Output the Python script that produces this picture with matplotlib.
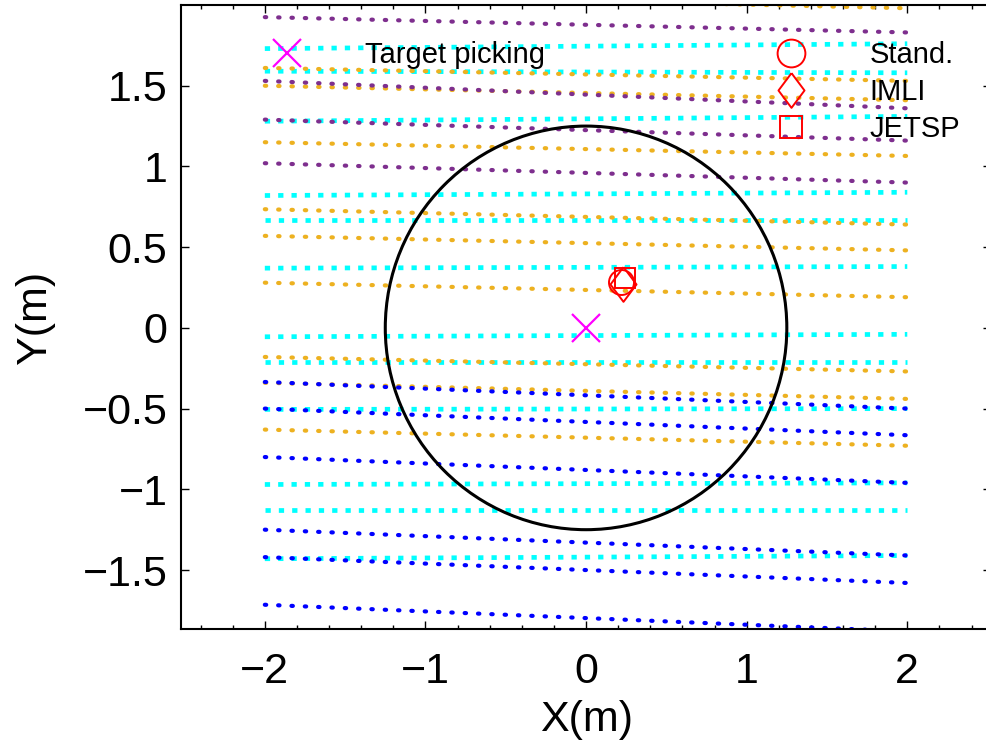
import matplotlib
matplotlib.use("Agg")
from matplotlib import pyplot as plt
from matplotlib.lines import Line2D
from matplotlib.patches import Circle
from matplotlib.ticker import MultipleLocator

plt.rcParams['font.family'] = ['Liberation Sans', 'DejaVu Sans']
plt.rcParams['lines.scale_dashes'] = False

# dotted reference lines: y at the left end (x=-2) and right end (x=2)
X_START, X_END = -2.0, 2.0
cyan_left = [1.73, 1.59, 1.28, 0.82, 0.67, 0.37, -0.055, -0.21, -0.505, -0.97, -1.13, -1.43]
cyan_right = [1.76, 1.58, 1.31, 0.84, 0.67, 0.38, -0.04, -0.21, -0.50, -0.96, -1.13, -1.41]
orange_left = [2.07, 1.61, 1.50, 1.15, 0.735, 0.57, 0.28, -0.18, -0.34, -0.63]
orange_right = [1.98, 1.53, 1.41, 1.065, 0.64, 0.48, 0.19, -0.27, -0.44, -0.73]
purple_left = [1.925, 1.53, 1.29, 1.02]
purple_right = [1.83, 1.36, 1.16, 0.90]
blue_left = [-0.335, -0.50, -0.80, -1.25, -1.42, -1.715]
blue_right = [-0.50, -0.665, -0.96, -1.41, -1.58, -1.88]

# circle and picked points
CIRCLE_R = 1.25
target = (0.0, 0.0)
methods = ["Stand.", "IMLI", "JETSP"]
method_x = [0.22, 0.23, 0.245]
method_y = [0.285, 0.27, 0.31]

XTICKS = [-2, -1, 0, 1, 2]
XTICK_LABELS = ["\u22122", "\u22121", "0", "1", "2"]
YTICKS = [-1.5, -1, -0.5, 0, 0.5, 1, 1.5]
YTICK_LABELS = ["\u22121.5", "\u22121", "\u22120.5", "0", "0.5", "1", "1.5"]

CYAN = "#00FFFF"
ORANGE = "#EDB120"
PURPLE = "#7E2F8E"
BLUE = "#0000FF"

DIAMOND = [(0, 1), (0.75, 0), (0, -1), (-0.75, 0), (0, 1)]

fig = plt.figure(figsize=(9.87, 7.48), dpi=100)
ax = fig.add_axes([181.3 / 987, 118.7 / 748, 809.5 / 987, 624.3 / 748])


def dotted(lefts, rights, color, square=False):
    for yl, yr in zip(lefts, rights):
        if square:
            ax.plot([X_START, X_END], [yl, yr], color=color, lw=3.4,
                    dashes=(3.8, 5.8), dash_capstyle="butt")
        else:
            ax.plot([X_START, X_END], [yl, yr], color=color, lw=3.0,
                    dashes=(1.0, 8.6), dash_capstyle="round")


dotted(cyan_left, cyan_right, CYAN, square=True)
dotted(orange_left, orange_right, ORANGE)
dotted(purple_left, purple_right, PURPLE)
dotted(blue_left, blue_right, BLUE)

ax.add_patch(Circle(target, CIRCLE_R, fill=False, color="black", lw=2.2, zorder=4))

ax.plot([target[0]], [target[1]], "x", color="#FF00FF", ms=20, mew=1.6, zorder=5)
markers = ["o", DIAMOND, "s"]
sizes = [18, 25, 15]
for m, s, x, y in zip(markers, sizes, method_x, method_y):
    ax.plot([x], [y], marker=m, ms=s, mfc="none", mec="red", mew=1.4,
            ls="none", zorder=6)

ax.set_xlim(-2.52, 2.52)
ax.set_ylim(-1.867, 2.0)
ax.set_xticks(XTICKS)
ax.set_xticklabels(XTICK_LABELS)
ax.set_yticks(YTICKS)
ax.set_yticklabels(YTICK_LABELS)
ax.xaxis.set_minor_locator(MultipleLocator(0.2))
ax.tick_params(which="both", direction="in", top=True, right=True, width=1.0)
ax.tick_params(which="major", length=5.5, labelsize=31)
ax.tick_params(which="minor", length=3)
ax.tick_params(axis="x", pad=16)
ax.tick_params(axis="y", pad=10)
for sp in ax.spines.values():
    sp.set_linewidth(1.5)

ax.set_xlabel("X(m)", fontsize=31, labelpad=6)
ax.set_ylabel("Y(m)", fontsize=31, labelpad=20)

# legends
h1 = [Line2D([], [], marker="x", color="#FF00FF", ms=20, mew=1.6, ls="none")]
leg1 = ax.legend(h1, ["Target picking"], loc="upper left",
                 bbox_to_anchor=(0.096, 0.942), frameon=False, fontsize=21,
                 handlelength=1.9, handletextpad=1.75, borderpad=0,
                 borderaxespad=0)
ax.add_artist(leg1)
h2 = [Line2D([], [], marker=m, ms=s, mfc="none", mec="red", mew=1.4, ls="none")
      for m, s in zip(markers, [20, 25, 16])]
ax.legend(h2, methods, loc="upper left", bbox_to_anchor=(0.7186, 0.942),
          frameon=False, fontsize=21, handlelength=1.9, handletextpad=1.75,
          borderpad=0, borderaxespad=0, labelspacing=0.3)

plt.savefig("out.png", dpi=100)
plt.close()
